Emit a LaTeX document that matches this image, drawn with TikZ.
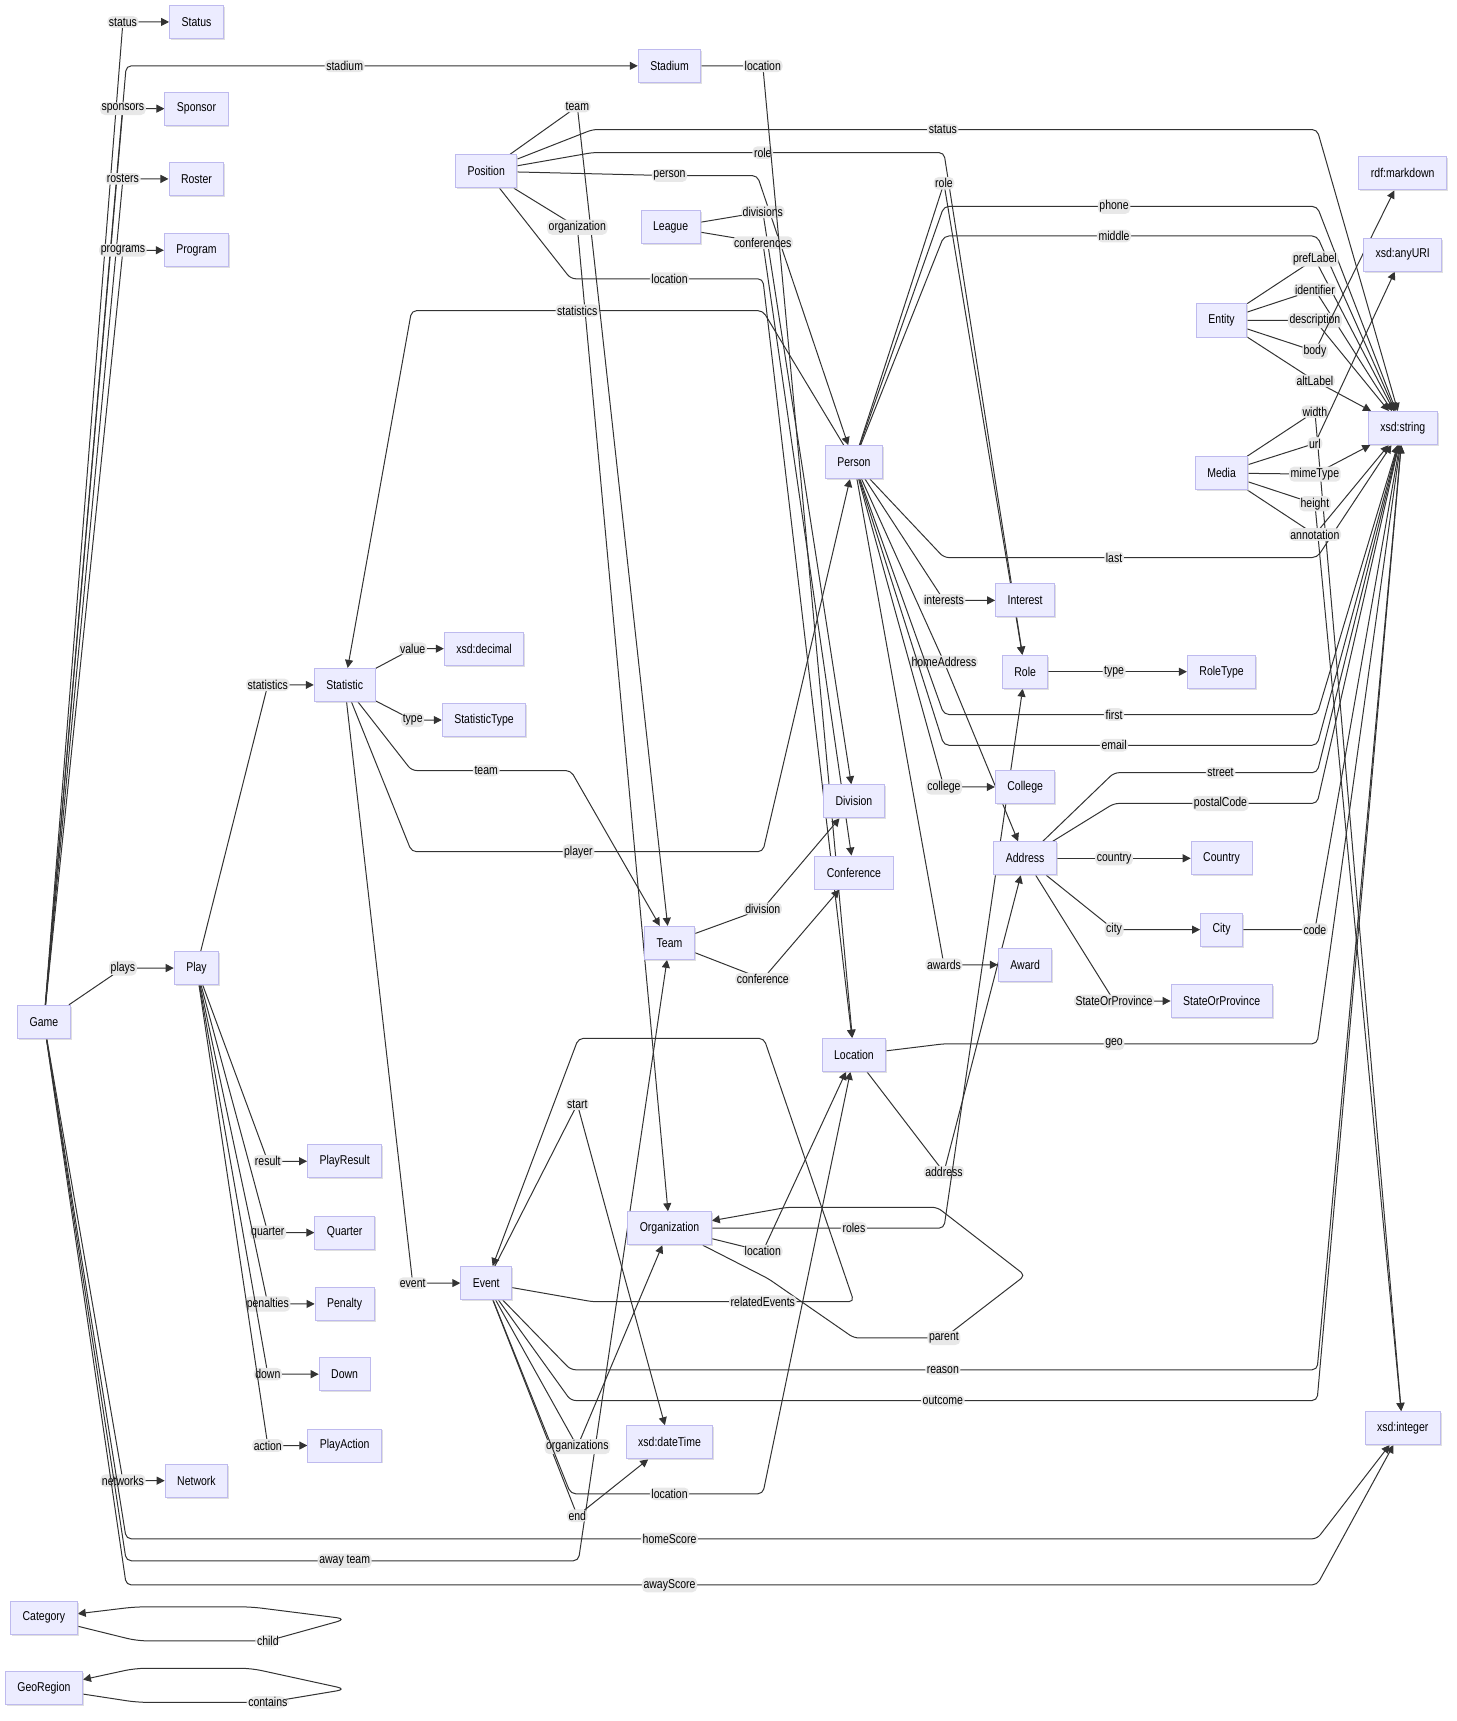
\documentclass[tikz,border=0pt]{standalone}
\usepackage{fontspec}
\setmainfont{Liberation Sans}[FakeStretch=0.82]
\usetikzlibrary{arrows.meta,shadows,backgrounds}
\definecolor{clsfill}{RGB}{236,236,255}
\definecolor{clsdraw}{RGB}{190,186,238}
\definecolor{lblgray}{RGB}{232,232,232}
\definecolor{edgegray}{RGB}{51,51,51}

\begin{document}
\begin{tikzpicture}[
      x=0.5486pt, y=-0.5486pt,
      >={Triangle[length=4pt,width=4pt]},
      cls/.style={draw=clsdraw, fill=clsfill, line width=0.5pt, minimum height=16.5pt,
                  inner xsep=6pt, font=\fontsize{6.4}{7.5}\selectfont,
                  drop shadow={shadow xshift=0.7pt, shadow yshift=-0.7pt, fill=black!25, opacity=0.5}},
      lbl/.style={fill=lblgray, inner sep=0.8pt, font=\fontsize{6.4}{7.5}\selectfont},
      rel/.style={->, draw=edgegray, line width=0.5pt, rounded corners=2.5pt},
      loop/.style={rel, rounded corners=5pt}
    ]
    \useasboundingbox (0,0) rectangle (1327,1568);

    \node[cls] (status)       at (179,20)   {Status};
    \node[cls] (stadium)      at (610,60)   {Stadium};
    \node[cls] (sponsor)      at (179,99)   {Sponsor};
    \node[cls] (roster)       at (179,163)  {Roster};
    \node[cls] (program)      at (179,228)  {Program};
    \node[cls] (position)     at (443,156)  {Position};
    \node[cls] (league)       at (611,207)  {League};
    \node[cls] (markdown)     at (1278,158) {rdf:markdown};
    \node[cls] (anyuri)       at (1278,232) {xsd:anyURI};
    \node[cls] (entity)       at (1113,292) {Entity};
    \node[cls] (string)       at (1278,390) {xsd:string};
    \node[cls] (media)        at (1113,431) {Media};
    \node[cls] (person)       at (778,421)  {Person};
    \node[cls] (interest)     at (934,547)  {Interest};
    \node[cls] (role)         at (934,612)  {Role};
    \node[cls] (roletype)     at (1113,612) {RoleType};
    \node[cls] (decimal)      at (441,591)  {xsd:decimal};
    \node[cls] (statistic)    at (314,624)  {Statistic};
    \node[cls] (stattype)     at (441,656)  {StatisticType};
    \node[cls] (college)      at (934,717)  {College};
    \node[cls] (division)     at (778,730)  {Division};
    \node[cls] (address)      at (934,782)  {Address};
    \node[cls] (country)      at (1113,782) {Country};
    \node[cls] (conference)   at (778,795)  {Conference};
    \node[cls] (team)         at (610,859)  {Team};
    \node[cls] (city)         at (1113,847) {City};
    \node[cls] (award)        at (934,879)  {Award};
    \node[cls] (stateprov)    at (1113,912) {StateOrProvince};
    \node[cls] (play)         at (179,882)  {Play};
    \node[cls] (game)         at (40,931)   {Game};
    \node[cls] (location)     at (778,961)  {Location};
    \node[cls] (playresult)   at (314,1058) {PlayResult};
    \node[cls] (quarter)      at (314,1123) {Quarter};
    \node[cls] (organization) at (610,1119) {Organization};
    \node[cls] (event)        at (443,1169) {Event};
    \node[cls] (penalty)      at (314,1188) {Penalty};
    \node[cls] (down)         at (314,1252) {Down};
    \node[cls] (playaction)   at (314,1317) {PlayAction};
    \node[cls] (datetime)     at (610,1314) {xsd:dateTime};
    \node[cls] (integer)      at (1278,1301) {xsd:integer};
    \node[cls] (network)      at (179,1349) {Network};
    \node[cls] (category)     at (40,1474)  {Category};
    \node[cls] (georegion)    at (40,1538)  {GeoRegion};

    \begin{pgfonlayer}{background}
    % game
    \draw[rel] (game) -- (112,20) node[lbl]{status} -- (status);
    \draw[rel] (game) -- (115,60) -- (314,60) node[lbl]{stadium} -- (stadium);
    \draw[rel] (game) -- (112,99) node[lbl]{sponsors} -- (sponsor);
    \draw[rel] (game) -- (112,163) node[lbl]{rosters} -- (roster);
    \draw[rel] (game) -- (112,228) node[lbl]{programs} -- (program);
    \draw[rel] (game) -- (112,882) node[lbl]{plays} -- (play);
    \draw[rel] (game) -- (112,1349) node[lbl]{networks} -- (network);
    \draw[rel] (game) -- (115,1402) -- (610,1402) node[lbl]{homeScore} -- (1200,1402) -- (integer);
    \draw[rel] (game) -- (115,1422) -- (314,1422) node[lbl]{away team} -- (527,1422) -- (team);
    \draw[rel] (game) -- (115,1444) -- (610,1444) node[lbl]{awayScore} -- (1200,1444) -- (integer);

    % play
    \draw[rel] (play) -- (244,624) node[lbl]{statistics} -- (statistic);
    \draw[rel] (play) -- (244,1058) node[lbl]{result} -- (playresult);
    \draw[rel] (play) -- (244,1123) node[lbl]{quarter} -- (quarter);
    \draw[rel] (play) -- (244,1188) node[lbl]{penalties} -- (penalty);
    \draw[rel] (play) -- (244,1252) node[lbl]{down} -- (down);
    \draw[rel] (play) -- (244,1317) node[lbl]{action} -- (playaction);

    % statistic
    \draw[rel] (statistic) -- (376,591) node[lbl]{value} -- (decimal);
    \draw[rel] (statistic) -- (376,656) node[lbl]{type} -- (stattype);
    \draw[rel] (statistic) -- (375,702) -- (443,702) node[lbl]{team} -- (520,702) -- (team);
    \draw[rel] (statistic) -- (375,776) -- (527,776) node[lbl]{player} -- (695,776) -- (person);
    \draw[rel] (statistic) -- (376,1169) node[lbl]{event} -- (event);

    % position
    \draw[rel] (position) -- (526,97) node[lbl]{team} -- (team);
    \draw[rel] (position) -- (540,118) -- (859,118) node[lbl]{status} -- (1200,118) -- (string);
    \draw[rel] (position) -- (540,139) -- (695,139) node[lbl]{role} -- (860,139) -- (role);
    \draw[rel] (position) -- (610,160) node[lbl]{person} -- (690,160) -- (person);
    \draw[rel] (position) -- (526,207) node[lbl]{organization} -- (organization);
    \draw[rel] (position) -- (520,254) -- (610,254) node[lbl]{location} -- (695,254) -- (location);

    % league and stadium
    \draw[rel] (league) -- (695,193) node[lbl]{divisions} -- (division);
    \draw[rel] (league) -- (695,221) node[lbl]{conferences} -- (conference);
    \draw[rel] (stadium) -- (695,60) node[lbl]{location} -- (location);

    % person
    \draw[rel] (person) -- (695,283) -- (526,283) node[lbl]{statistics} -- (375,283) -- (statistic);
    \draw[rel] (person) -- (860,167) node[lbl]{role} -- (role);
    \draw[rel] (person) -- (860,188) -- (1015,188) node[lbl]{phone} -- (1200,188) -- (string);
    \draw[rel] (person) -- (860,215) -- (1015,215) node[lbl]{middle} -- (1200,215) -- (string);
    \draw[rel] (person) -- (860,508) -- (1015,508) node[lbl]{last} -- (1200,508) -- (string);
    \draw[rel] (person) -- (860,547) node[lbl]{interests} -- (interest);
    \draw[rel] (person) -- (860,603) node[lbl]{homeAddress} -- (address);
    \draw[rel] (person) -- (860,651) -- (1015,651) node[lbl]{first} -- (1200,651) -- (string);
    \draw[rel] (person) -- (860,679) -- (1015,679) node[lbl]{email} -- (1200,679) -- (string);
    \draw[rel] (person) -- (860,717) node[lbl]{college} -- (college);
    \draw[rel] (person) -- (860,879) node[lbl]{awards} -- (award);

    % entity and media
    \draw[rel] (entity) -- (1198,236) node[lbl]{prefLabel} -- (string);
    \draw[rel] (entity) -- (1198,264) node[lbl]{identifier} -- (string);
    \draw[rel] (entity) -- (1198,292) node[lbl]{description} -- (string);
    \draw[rel] (entity) -- (1198,320) node[lbl]{body} -- (markdown);
    \draw[rel] (entity) -- (1198,347) node[lbl]{altLabel} -- (string);
    \draw[rel] (media) -- (1198,375) node[lbl]{width} -- (integer);
    \draw[rel] (media) -- (1198,404) node[lbl]{url} -- (anyuri);
    \draw[rel] (media) -- (1198,432) node[lbl]{mimeType} -- (string);
    \draw[rel] (media) -- (1198,459) node[lbl]{height} -- (integer);
    \draw[rel] (media) -- (1198,487) node[lbl]{annotation} -- (string);

    % role, address, city
    \draw[rel] (role) -- (1015,612) node[lbl]{type} -- (roletype);
    \draw[rel] (address) -- (1015,704) -- (1112,704) node[lbl]{street} -- (1200,704) -- (string);
    \draw[rel] (address) -- (1015,732) -- (1112,732) node[lbl]{postalCode} -- (1200,732) -- (string);
    \draw[rel] (address) -- (1015,782) node[lbl]{country} -- (country);
    \draw[rel] (address) -- (1015,847) node[lbl]{city} -- (city);
    \draw[rel] (address) -- (1015,912) node[lbl]{StateOrProvince} -- (stateprov);
    \draw[rel] (city) -- (1198,847) node[lbl]{code} -- (string);

    % team and location
    \draw[rel] (team) -- (695,828) node[lbl]{division} -- (division);
    \draw[rel] (team) -- (695,892) node[lbl]{conference} -- (conference);
    \draw[rel] (location) -- (860,951) -- (1015,951) node[lbl]{geo} -- (1200,951) -- (string);
    \draw[rel] (location) -- (860,1068) node[lbl]{address} -- (address);

    % organization
    \draw[rel] (organization) -- (695,1140) node[lbl]{location} -- (location);
    \draw[rel] (organization) -- (778,1119) node[lbl]{roles} -- (860,1119) -- (role);
    \draw[rel] (organization) -- (700,1165) -- (778,1219) -- (860,1219) node[lbl]{parent} -- (934,1162) -- (854,1100) -- (717,1100) -- (organization);

    % event
    \draw[rel] (event) -- (540,1186) -- (695,1186) node[lbl]{relatedEvents} -- (778,1186) -- (696,946) -- (527,946) -- (event);
    \draw[rel] (event) -- (526,1006) node[lbl]{start} -- (datetime);
    \draw[rel] (event) -- (526,1381) node[lbl]{end} -- (datetime);
    \draw[rel] (event) -- (526,1318) node[lbl]{organizations} -- (organization);
    \draw[rel] (event) -- (520,1361) -- (610,1361) node[lbl]{location} -- (695,1361) -- (location);
    \draw[rel] (event) -- (520,1248) -- (859,1248) node[lbl]{reason} -- (1200,1248) -- (string);
    \draw[rel] (event) -- (520,1276) -- (859,1276) node[lbl]{outcome} -- (1200,1276) -- (string);

    % self loops
    \draw[loop] (category) -- (125,1495) -- (244,1495) node[lbl]{child} -- (316,1475) -- (229,1464) -- (123,1464) -- (category);
    \draw[loop] (georegion) -- (125,1551) -- (244,1551) node[lbl]{contains} -- (316,1539) -- (229,1520) -- (123,1520) -- (georegion);
    \end{pgfonlayer}
  \end{tikzpicture}
\end{document}
